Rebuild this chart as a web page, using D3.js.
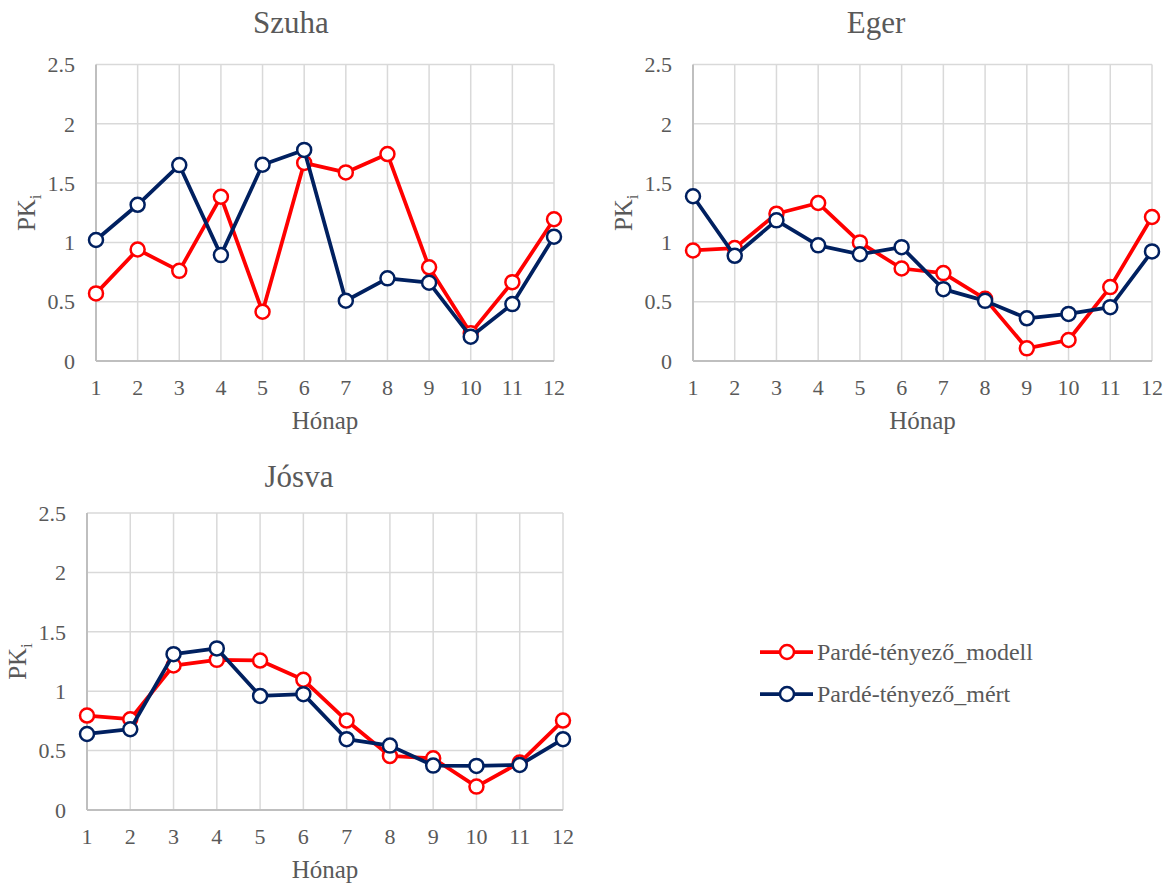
<!DOCTYPE html>
<html>
<head>
    <meta charset="utf-8">
    <title>Pardé-tényező</title>
    <script src="https://d3js.org/d3.v7.min.js"></script>
    <style>
        body {
            margin: 0;
            background: #fff;
        }
        .grid line {
            stroke: #d9d9d9;
            stroke-width: 1.5px;
        }
        .axis-line {
            stroke: #bfbfbf;
            stroke-width: 2px;
        }
    </style>
</head>
<body>
    <svg id="chart" width="1170" height="886"></svg>

    <script>
        // data
        const months = [1, 2, 3, 4, 5, 6, 7, 8, 9, 10, 11, 12];
        const yTicks = [0, 0.5, 1, 1.5, 2, 2.5];

        const szuhaModell = [0.57, 0.94, 0.76, 1.385, 0.415, 1.67, 1.59, 1.745, 0.79, 0.235, 0.665, 1.195];
        const szuhaMert   = [1.02, 1.317, 1.652, 0.893, 1.655, 1.78, 0.508, 0.697, 0.66, 0.205, 0.48, 1.048];

        const egerModell = [0.932, 0.952, 1.242, 1.332, 1.0, 0.78, 0.741, 0.524, 0.107, 0.177, 0.623, 1.214];
        const egerMert   = [1.389, 0.887, 1.186, 0.975, 0.9, 0.96, 0.606, 0.507, 0.36, 0.397, 0.454, 0.924];

        const josvaModell = [0.795, 0.764, 1.216, 1.264, 1.258, 1.096, 0.753, 0.455, 0.435, 0.197, 0.399, 0.753];
        const josvaMert   = [0.64, 0.68, 1.312, 1.36, 0.96, 0.975, 0.596, 0.542, 0.374, 0.371, 0.379, 0.596];

        const seriesNames = ['Pardé-tényező_modell', 'Pardé-tényező_mért'];
        const seriesColors = ['#ff0000', '#002060'];

        const FONT = "'Liberation Serif', 'DejaVu Serif', serif";
        const TEXT = '#595959';

        const panels = [
            {title: 'Szuha', left: 96,  right: 554,  top: 64.5, bottom: 361, titleX: 291, titleY: 33,  series: [szuhaModell, szuhaMert]},
            {title: 'Eger',  left: 693, right: 1152, top: 64.5, bottom: 361, titleX: 876, titleY: 33,  series: [egerModell, egerMert]},
            {title: 'Jósva', left: 87,  right: 563,  top: 513,  bottom: 810, titleX: 299, titleY: 487, series: [josvaModell, josvaMert]}
        ];

        const svg = d3.select('#chart')
            .attr('font-family', FONT);

        panels.forEach(p => {
            const x = d3.scaleLinear().domain([1, 12]).range([p.left, p.right]);
            const y = d3.scaleLinear().domain([0, 2.5]).range([p.bottom, p.top]);
            const g = svg.append('g');

            // gridlines
            const grid = g.append('g').attr('class', 'grid');
            grid.selectAll('.h').data(yTicks.filter(d => d > 0)).enter().append('line')
                .attr('x1', p.left).attr('x2', p.right)
                .attr('y1', d => y(d)).attr('y2', d => y(d));
            grid.selectAll('.v').data(months.slice(1)).enter().append('line')
                .attr('x1', d => x(d)).attr('x2', d => x(d))
                .attr('y1', p.top).attr('y2', p.bottom);

            // axis lines
            g.append('line').attr('class', 'axis-line')
                .attr('x1', p.left).attr('x2', p.left).attr('y1', p.top).attr('y2', p.bottom);
            g.append('line').attr('class', 'axis-line')
                .attr('x1', p.left).attr('x2', p.right).attr('y1', p.bottom).attr('y2', p.bottom);

            // tick labels
            g.selectAll('.ylab').data(yTicks).enter().append('text')
                .attr('x', p.left - 21)
                .attr('y', d => y(d))
                .attr('dy', '0.35em')
                .attr('text-anchor', 'end')
                .attr('fill', TEXT)
                .attr('font-size', 22)
                .text(d => d);
            g.selectAll('.xlab').data(months).enter().append('text')
                .attr('x', d => x(d))
                .attr('y', p.bottom + 34)
                .attr('text-anchor', 'middle')
                .attr('fill', TEXT)
                .attr('font-size', 22)
                .text(d => d);

            // titles
            g.append('text')
                .attr('x', p.titleX).attr('y', p.titleY)
                .attr('text-anchor', 'middle')
                .attr('fill', TEXT)
                .attr('font-size', 31)
                .text(p.title);
            g.append('text')
                .attr('x', (p.left + p.right) / 2).attr('y', p.bottom + 68)
                .attr('text-anchor', 'middle')
                .attr('fill', TEXT)
                .attr('font-size', 25)
                .text('Hónap');
            const yl = g.append('text')
                .attr('transform', `translate(${p.left - 61},${(p.top + p.bottom) / 2}) rotate(-90)`)
                .attr('text-anchor', 'middle')
                .attr('fill', TEXT)
                .attr('font-size', 25);
            yl.append('tspan').text('PK');
            yl.append('tspan').attr('dy', 6).attr('font-size', 17).text('i');

            // series
            const line = d3.line().x((d, i) => x(months[i])).y(d => y(d));
            p.series.forEach((vals, si) => {
                g.append('path')
                    .datum(vals)
                    .attr('fill', 'none')
                    .attr('stroke', seriesColors[si])
                    .attr('stroke-width', 3.75)
                    .attr('stroke-linejoin', 'round')
                    .attr('d', line);
                g.selectAll('.dot' + si).data(vals).enter().append('circle')
                    .attr('cx', (d, i) => x(months[i]))
                    .attr('cy', d => y(d))
                    .attr('r', 7)
                    .attr('fill', '#fff')
                    .attr('stroke', seriesColors[si])
                    .attr('stroke-width', 2.5);
            });
        });

        // legend
        const legend = svg.append('g');
        const legendY = [652, 694];
        seriesNames.forEach((name, i) => {
            legend.append('line')
                .attr('x1', 760).attr('x2', 813)
                .attr('y1', legendY[i]).attr('y2', legendY[i])
                .attr('stroke', seriesColors[i])
                .attr('stroke-width', 3.75);
            legend.append('circle')
                .attr('cx', 787).attr('cy', legendY[i]).attr('r', 7)
                .attr('fill', '#fff')
                .attr('stroke', seriesColors[i])
                .attr('stroke-width', 2.5);
            legend.append('text')
                .attr('x', 817).attr('y', legendY[i])
                .attr('dy', '0.35em')
                .attr('fill', TEXT)
                .attr('font-size', 24)
                .text(name);
        });
    </script>
</body>
</html>
